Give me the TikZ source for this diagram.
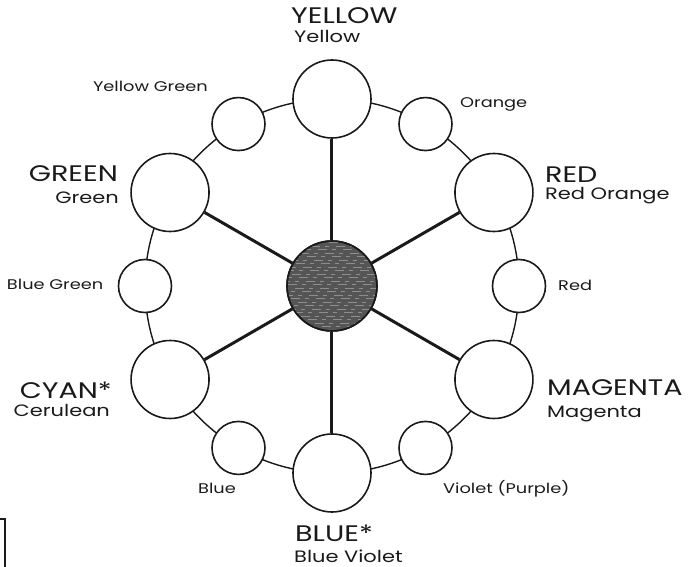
\documentclass[tikz,border=0pt]{standalone}
\usepackage{fontspec}
\setmainfont{Poppins}[FakeStretch=1.27]
\usepackage{tikz}
\usetikzlibrary{
  positioning,
  calc
}
\definecolor{cwInk}{HTML}{1A1A1A}
\definecolor{cwHub}{HTML}{555555}
\definecolor{cwStreak}{HTML}{8E8E8E}
\tikzset{
  wheelnode/.style={
    draw=cwInk, circle, fill=white, inner sep=0pt, line width=1.6pt
  },
  bigc/.style={wheelnode, minimum size=78pt},
  smallc/.style={wheelnode, minimum size=53pt},
  hubc/.style={wheelnode, fill=cwHub, minimum size=90pt},
  ringline/.style={draw=cwInk, line width=1.4pt},
  spoke/.style={draw=cwInk, line width=3pt},
  streak/.style={cwStreak, line width=0.7pt, dash pattern=on 9pt off 5pt on 4pt off 7pt},
  caplbl/.style={font=\fontsize{22.5}{24}\selectfont, text=cwInk, inner sep=0pt},
  sublbl/.style={font=\fontsize{16.5}{18}\selectfont, text=cwInk, inner sep=0pt},
  minorlbl/.style={font=\fontsize{14}{16}\selectfont, text=cwInk, inner sep=0pt},
  edgemark/.style={draw=cwInk, line width=1.4pt}
}
\begin{document}
\begin{tikzpicture}[x=1pt, y=1pt]
  \useasboundingbox (-332,-281) rectangle (367,286);
  % outer ring behind everything
  \draw[ringline] (0,0) circle (187);
  % hub
  \node[hubc] (hub) at (0,0) {};
  % primaries
  \node[bigc] (yel) at (90:187) {};
  \node[bigc] (red) at (30:187) {};
  \node[bigc] (mag) at (-30:187) {};
  \node[bigc] (blu) at (-90:187) {};
  \node[bigc] (cya) at (210:187) {};
  \node[bigc] (gre) at (150:187) {};
  % in-betweens
  \node[smallc] (ora) at (60:187) {};
  \node[smallc] (rsm) at (0:187) {};
  \node[smallc] (vio) at (-60:187) {};
  \node[smallc] (bsm) at (240:187) {};
  \node[smallc] (bgr) at (180:187) {};
  \node[smallc] (ygr) at (120:187) {};
  \foreach \n in {yel,red,mag,blu,cya,gre}
    \draw[spoke] (hub) -- (\n);
  % hub texture
  \begin{scope}
    \clip (0,0) circle (44.5);
    \foreach \yy [count=\i] in {-44,-40.5,...,44}
      \draw[streak, dash phase=\i*7pt] (-46,\yy) -- (46,\yy);
  \end{scope}
  \node[hubc, fill=none] at (hub) {};
  % labels
  \node[caplbl, anchor=base west] (yelcap) at ([xshift=-41pt,yshift=75pt]yel.center) {YELLOW};
  \node[sublbl, anchor=base west] (yelsub) at ([xshift=-38pt,yshift=56pt]yel.center) {Yellow};
  \node[caplbl, anchor=base west] (redcap) at ([xshift=51pt,yshift=10pt]red.center) {RED};
  \node[sublbl, anchor=base west] (redsub) at ([xshift=51pt,yshift=-7.5pt]red.center) {Red Orange};
  \node[caplbl, anchor=base west] (magcap) at ([xshift=53pt,yshift=-16pt]mag.center) {MAGENTA};
  \node[sublbl, anchor=base west] (magsub) at ([xshift=53pt,yshift=-38pt]mag.center) {Magenta};
  \node[caplbl, anchor=base west] (blucap) at ([xshift=-37pt,yshift=-68pt]blu.center) {BLUE*};
  \node[sublbl, anchor=base west] (blusub) at ([xshift=-38pt,yshift=-89pt]blu.center) {Blue Violet};
  \node[caplbl, anchor=base east] (cyacap) at ([xshift=-58pt,yshift=-19.5pt]cya.center) {CYAN*};
  \node[sublbl, anchor=base east] (cyasub) at ([xshift=-60pt,yshift=-37.5pt]cya.center) {Cerulean};
  \node[caplbl, anchor=base east] (grecap) at ([xshift=-52pt,yshift=11pt]gre.center) {GREEN};
  \node[sublbl, anchor=base east] (gresub) at ([xshift=-51pt,yshift=-11pt]gre.center) {Green};
  \node[minorlbl, anchor=base west] (oralbl) at ([xshift=34.5pt,yshift=16.5pt]ora.center) {Orange};
  \node[minorlbl, anchor=base east] (ygrlbl) at ([xshift=-30.5pt,yshift=33pt]ygr.center) {Yellow Green};
  \node[minorlbl, anchor=base east] (bgrlbl) at ([xshift=-41.5pt,yshift=-4pt]bgr.center) {Blue Green};
  \node[minorlbl, anchor=base west] (rsmlbl) at ([xshift=39pt,yshift=-4.5pt]rsm.center) {Red};
  \node[minorlbl, anchor=base west] (bsmlbl) at ([xshift=-40.5pt,yshift=-46pt]bsm.center) {Blue};
  \node[minorlbl, anchor=base west] (violbl) at ([xshift=17.5pt,yshift=-46pt]vio.center) {Violet (Purple)};
  % stray corner mark
  \draw[edgemark] (-332,-233) -- (-327,-233) -- (-327,-281);
\end{tikzpicture}
\end{document}
